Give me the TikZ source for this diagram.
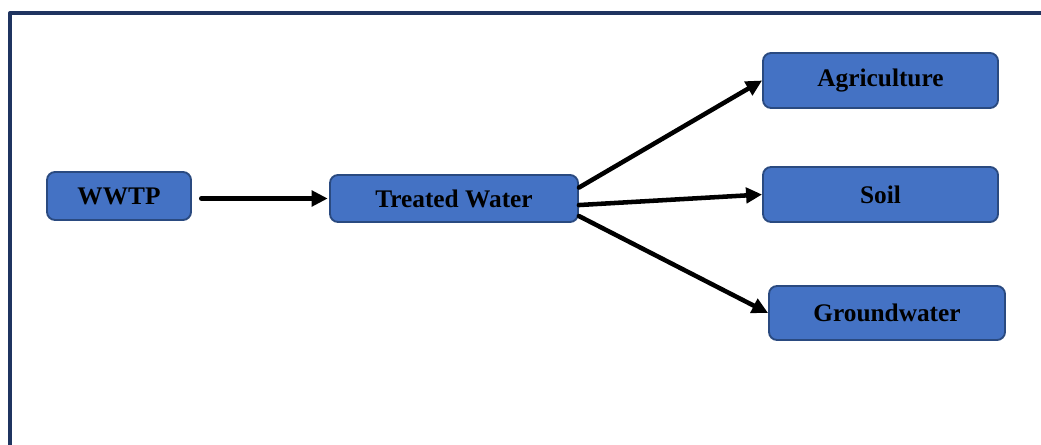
\documentclass[tikz,border=0pt]{standalone}
\usepackage{fontspec}
\setmainfont{Liberation Serif}
\usetikzlibrary{arrows.meta}
\definecolor{boxblue}{HTML}{4472C4}
\definecolor{boxedge}{HTML}{2A4A80}
\definecolor{framenavy}{HTML}{1F3460}
\begin{document}
\begin{tikzpicture}[x=0.75pt,y=-0.75pt,line cap=round,line join=round,
  stage/.style={draw=boxedge,line width=1.4pt,fill=boxblue,rounded corners=6pt,
    font=\fontsize{19}{22}\selectfont\bfseries,text=black,inner sep=0pt},
  flow/.style={line width=3.4pt,-{Triangle[length=12pt,width=11.5pt]}}]
  \useasboundingbox (0,0) rectangle (1041,445);

  % Outer frame, only top and left edges visible in the source.
  \draw[framenavy,line width=3pt,line cap=butt] (10,445)--(10,13)--(1041,13);

  % Source and treatment.
  \node[stage,minimum width=108pt,minimum height=36pt] (wwtp) at (119,196) {WWTP};
  \node[stage,minimum width=186pt,minimum height=35.25pt] (treated) at (454,198.5) {Treated Water};

  % Destinations of the treated water.
  \node[stage,minimum width=176.25pt,minimum height=41.25pt] (agri) at (880.5,80.5) {Agriculture};
  \node[stage,minimum width=176.25pt,minimum height=41.25pt] (soil) at (880.5,194.5) {Soil};
  \node[stage,minimum width=177pt,minimum height=40.5pt] (ground) at (887,313) {Groundwater};

  \draw[flow,shorten <=7pt,shorten >=1pt] (wwtp.east |- treated.west)--(treated.west);
  \draw[flow] (treated.5)--(agri.west);
  \draw[flow] (treated.-3)--(soil.west);
  \draw[flow] (treated.-8)--(ground.west);
\end{tikzpicture}
\end{document}
